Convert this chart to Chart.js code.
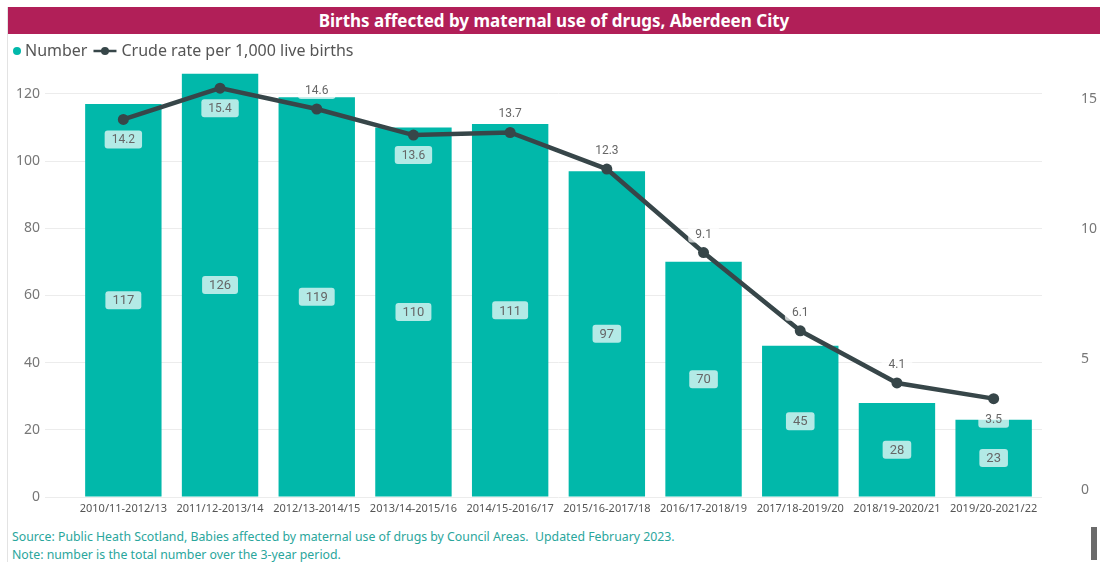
<!DOCTYPE html>
<html>
<head>
<meta charset="utf-8">
<script src="https://cdn.jsdelivr.net/npm/chart.js@4/dist/chart.umd.min.js"></script>
<style>
  html, body { margin: 0; padding: 0; background: #fff; }
  body { width: 1102px; height: 562px; position: relative; overflow: hidden; font-family: "Noto Sans", sans-serif; }
  .frame { position: absolute; left: 7px; top: 7px; width: 1px; height: 560px; background: #e3e3e3; }
  .title {
    position: absolute; left: 8px; top: 7px; width: 1092px; height: 27px;
    background: #b11f58; color: #fff; font-weight: bold; font-size: 17px;
    line-height: 27px; text-align: center;
  }
  #chartBox { position: absolute; left: 0; top: 36px; width: 1102px; height: 490px; }
  .footer { position: absolute; left: 12px; top: 528px; font-size: 12.3px; line-height: 18px; color: #2aa69c; }
  .scroll { position: absolute; left: 1091px; top: 527px; width: 6px; height: 33px; background: #6b6b6b; }
</style>
</head>
<body>
<div class="frame"></div>
<div class="title">Births affected by maternal use of drugs, Aberdeen City</div>
<div id="chartBox"><canvas id="birthsChart"></canvas></div>
<div class="footer">
  Source: Public Heath Scotland, Babies affected by maternal use of drugs by Council Areas.&nbsp; Updated February 2023.<br>
  Note: number is the total number over the 3-year period.
</div>
<div class="scroll"></div>
<script>
// ---- data ----
const periods = ['2010/11-2012/13', '2011/12-2013/14', '2012/13-2014/15', '2013/14-2015/16', '2014/15-2016/17',
                 '2015/16-2017/18', '2016/17-2018/19', '2017/18-2019/20', '2018/19-2020/21', '2019/20-2021/22'];
const numberValues = [117, 126, 119, 110, 111, 97, 70, 45, 28, 23];
const rateValues = [14.2, 15.4, 14.6, 13.6, 13.7, 12.3, 9.1, 6.1, 4.1, 3.5];
const leftTicks = [0, 20, 40, 60, 80, 100, 120];
const rightTicks = [0, 5, 10, 15];

const TEAL = '#01b8aa';
const DARK = '#374649';
const labelsBelow = [0, 1, 3, 9];   // rate labels drawn under the point

function drawTag(ctx, text, x, y, font) {
    ctx.save();
    ctx.font = font;
    const w = ctx.measureText(text).width + 14;
    const h = 18;
    ctx.fillStyle = 'rgba(255,255,255,0.7)';
    ctx.beginPath();
    ctx.roundRect(x - w / 2, y - h / 2, w, h, 3);
    ctx.fill();
    ctx.fillStyle = '#666';
    ctx.textAlign = 'center';
    ctx.textBaseline = 'middle';
    ctx.fillText(text, x, y + 1);
    ctx.restore();
}

const valueLabels = {
    id: 'valueLabels',
    afterDatasetsDraw(chart) {
        const ctx = chart.ctx;
        chart.getDatasetMeta(0).data.forEach((bar, i) => {
            drawTag(ctx, String(numberValues[i]), bar.x, (bar.y + bar.base) / 2, '13px Roboto');
        });
        chart.getDatasetMeta(1).data.forEach((pt, i) => {
            const y = labelsBelow.includes(i) ? pt.y + 20 : pt.y - 19;
            drawTag(ctx, rateValues[i].toFixed(1), pt.x, y, '12px Roboto');
        });
    }
};

// power-bi style legend: "● Number  —●— Crude rate ..."
const inlineLegend = {
    id: 'inlineLegend',
    afterDraw(chart) {
        const ctx = chart.ctx;
        const ds = chart.data.datasets;
        const y = 15;
        ctx.save();
        ctx.font = '16px "Noto Sans"';
        ctx.textBaseline = 'middle';
        ctx.fillStyle = TEAL;
        ctx.beginPath(); ctx.arc(17, y, 4, 0, Math.PI * 2); ctx.fill();
        ctx.fillStyle = '#555';
        ctx.fillText(ds[0].label, 25, y);
        let x = 25 + ctx.measureText(ds[0].label).width + 6;
        ctx.strokeStyle = DARK; ctx.lineWidth = 2.5;
        ctx.beginPath(); ctx.moveTo(x, y); ctx.lineTo(x + 23, y); ctx.stroke();
        ctx.fillStyle = DARK;
        ctx.beginPath(); ctx.arc(x + 11.5, y, 4, 0, Math.PI * 2); ctx.fill();
        ctx.fillStyle = '#555';
        ctx.fillText(ds[1].label, x + 28, y);
        ctx.restore();
    }
};

function noEdgePadding(scale) {
    scale.paddingTop = 0;
    scale.paddingBottom = 0;
}

new Chart(document.getElementById('birthsChart'), {
    type: 'bar',
    data: {
        labels: periods,
        datasets: [
            {
                type: 'bar',
                label: 'Number',
                data: numberValues,
                backgroundColor: TEAL,
                yAxisID: 'y',
                order: 1,
                categoryPercentage: 0.79,
                barPercentage: 1.0
            },
            {
                type: 'line',
                label: 'Crude rate per 1,000 live births',
                data: rateValues,
                borderColor: DARK,
                backgroundColor: DARK,
                borderWidth: 4.5,
                pointRadius: 5.5,
                pointBackgroundColor: DARK,
                pointBorderWidth: 0,
                tension: 0,
                yAxisID: 'y1',
                order: 0
            }
        ]
    },
    options: {
        responsive: true,
        maintainAspectRatio: false,
        animation: false,
        layout: { padding: { left: 0, right: 0, top: 31, bottom: 0 } },
        plugins: {
            tooltip: { enabled: false },
            legend: { display: false }
        },
        scales: {
            x: {
                grid: { display: false, drawTicks: false },
                border: { display: false },
                ticks: { color: '#555', font: { family: 'Noto Sans', size: 11 }, padding: 5, maxRotation: 0, autoSkip: false },
                afterFit(scale) { scale.height = 29; scale.paddingLeft = 0; scale.paddingRight = 0; }
            },
            y: {
                position: 'left',
                min: 0,
                max: 128,
                grid: { color: '#ececec', lineWidth: 1, drawTicks: true, tickLength: 30 },
                border: { display: false },
                ticks: { color: '#777', font: { family: 'Noto Sans', size: 14 }, padding: 5 },
                afterBuildTicks(scale) { scale.ticks = leftTicks.map(v => ({ value: v })); },
                afterFit(scale) { scale.width = 75; noEdgePadding(scale); }
            },
            y1: {
                position: 'right',
                min: -0.27,
                max: 16.21,
                grid: { display: false, drawTicks: false },
                border: { display: false },
                ticks: { color: '#777', font: { family: 'Noto Sans', size: 14 }, padding: 39 },
                afterBuildTicks(scale) { scale.ticks = rightTicks.map(v => ({ value: v })); },
                afterFit(scale) { scale.width = 60; noEdgePadding(scale); }
            }
        }
    },
    plugins: [valueLabels, inlineLegend]
});
</script>
</body>
</html>
